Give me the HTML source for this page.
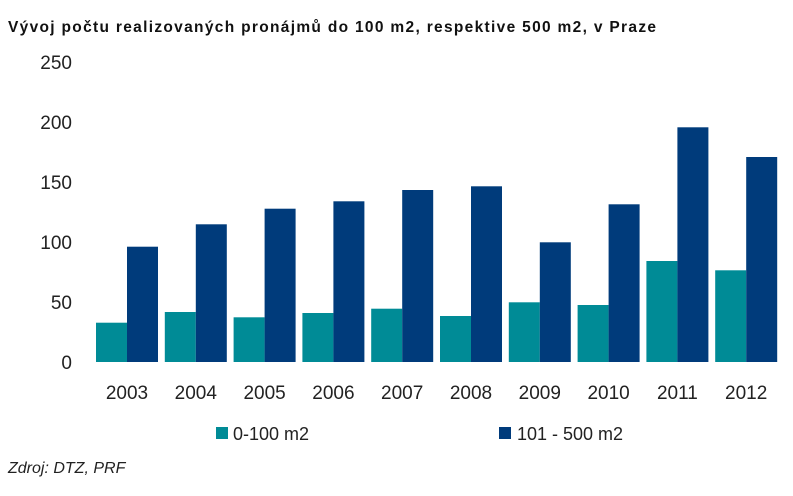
<!DOCTYPE html>
<html><head><meta charset="utf-8"><style>body{margin:0;background:#fff}svg{display:block}</style></head>
<body>
<svg width="793" height="496" xmlns="http://www.w3.org/2000/svg" font-family="Liberation Sans, sans-serif">
<rect width="793" height="496" fill="#fff"/>
<text x="8" y="32" font-size="15.5" font-weight="bold" fill="#111" textLength="648" lengthAdjust="spacing">Vývoj počtu realizovaných pronájmů do 100 m2, respektive 500 m2, v Praze</text>
<g font-size="19" fill="#222" text-anchor="end">
<text x="72" y="69">250</text><text x="72" y="129">200</text><text x="72" y="189">150</text>
<text x="72" y="249">100</text><text x="72" y="309">50</text><text x="72" y="369">0</text>
</g>
<g fill="#008b96">
<rect x="96" y="322.7" width="31" height="39.3"/>
<rect x="164.8" y="312" width="31" height="50"/>
<rect x="233.6" y="317.3" width="31" height="44.7"/>
<rect x="302.4" y="313" width="31" height="49"/>
<rect x="371.2" y="308.7" width="31" height="53.3"/>
<rect x="440" y="316" width="31" height="46"/>
<rect x="508.8" y="302.3" width="31" height="59.7"/>
<rect x="577.6" y="305" width="31" height="57"/>
<rect x="646.4" y="261" width="31" height="101"/>
<rect x="715.2" y="270.3" width="31" height="91.7"/>
</g>
<g fill="#003b7b">
<rect x="127" y="246.7" width="31" height="115.3"/>
<rect x="195.8" y="224.3" width="31" height="137.7"/>
<rect x="264.6" y="208.7" width="31" height="153.3"/>
<rect x="333.4" y="201.3" width="31" height="160.7"/>
<rect x="402.2" y="190" width="31" height="172"/>
<rect x="471" y="186.3" width="31" height="175.7"/>
<rect x="539.8" y="242.3" width="31" height="119.7"/>
<rect x="608.6" y="204.3" width="31" height="157.7"/>
<rect x="677.4" y="127.3" width="31" height="234.7"/>
<rect x="746.2" y="157" width="31" height="205"/>
</g>
<g font-size="19" fill="#222" text-anchor="middle">
<text x="127" y="399">2003</text><text x="195.8" y="399">2004</text><text x="264.6" y="399">2005</text>
<text x="333.4" y="399">2006</text><text x="402.2" y="399">2007</text><text x="471" y="399">2008</text>
<text x="539.8" y="399">2009</text><text x="608.6" y="399">2010</text><text x="677.4" y="399">2011</text>
<text x="746.2" y="399">2012</text>
</g>
<rect x="216" y="427" width="12" height="12" fill="#008b96"/>
<text x="233" y="440" font-size="18" fill="#222">0-100 m2</text>
<rect x="499" y="427" width="12" height="12" fill="#003b7b"/>
<text x="517" y="440" font-size="18" fill="#222">101 - 500 m2</text>
<text x="8" y="473" font-size="16" font-style="italic" fill="#222">Zdroj: DTZ, PRF</text>
</svg>
</body></html>
